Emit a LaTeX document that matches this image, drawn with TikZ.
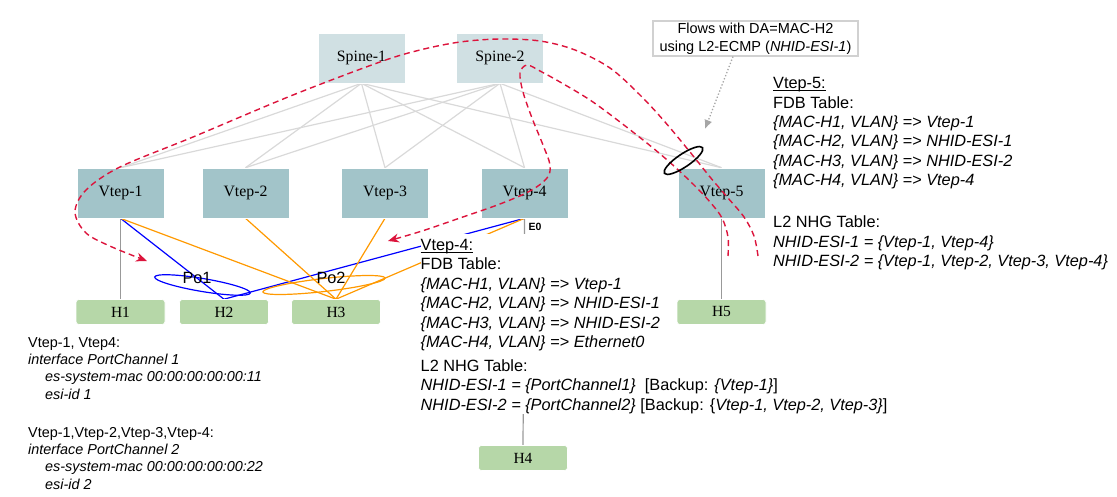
\documentclass[tikz,border=0pt]{standalone}
\usepackage{fontspec}
\setmainfont{Liberation Serif}
\newfontfamily\arial{Liberation Sans}
\usetikzlibrary{shapes.geometric,arrows.meta,backgrounds}
\definecolor{spinec}{HTML}{D0E0E3}
\definecolor{vtepc}{HTML}{A2C4C9}
\definecolor{hostc}{HTML}{B6D7A8}
\definecolor{linkc}{HTML}{D9D9D9}
\definecolor{hlinkc}{HTML}{999999}
\definecolor{orangec}{HTML}{FF9900}
\definecolor{bluec}{HTML}{0000FF}
\definecolor{flowc}{HTML}{DC143C}
\newcommand\myul[1]{\setbox0\hbox{#1}\rlap{\rule[-2.2pt]{\wd0}{0.9pt}}#1}
\begin{document}
\begin{tikzpicture}[x=1pt,y=-1pt,
  spinebox/.style={rectangle, fill=spinec, draw=white, line width=0.6pt, minimum width=87pt, minimum height=50pt, inner sep=0pt, font=\fontsize{15.8}{18}\selectfont},
  vtepbox/.style={spinebox, fill=vtepc},
  hostbox/.style={rectangle, rounded corners=3pt, fill=hostc, draw=white, line width=0.6pt, minimum width=89pt, minimum height=25pt, inner sep=0pt, font=\fontsize{15.5}{17}\selectfont},
  spinelink/.style={draw=linkc, line width=1.2pt},
  hostlink/.style={draw=hlinkc, line width=1.2pt},
  olink/.style={draw=orangec, line width=1.2pt},
  blink/.style={draw=bluec, line width=1.2pt},
  flow/.style={draw=flowc, line width=1.4pt, dash pattern=on 6pt off 4pt, -{Stealth[length=11pt,width=9pt]}},
  notetext/.style={font=\arial\fontsize{16.3}{19.3}\selectfont, align=left, inner sep=0pt, anchor=north west},
  pcring/.style={ellipse, draw, line width=1.2pt, inner sep=0pt, minimum height=13pt}
]
\useasboundingbox (0,0) rectangle (1117,497);

% links behind everything
% boxes
\node[spinebox] (s1) at (361.5,58) {Spine-1};
\node[spinebox] (s2) at (500,58) {Spine-2};
\node[vtepbox] (v1) at (120.5,193) {Vtep-1};
\node[vtepbox] (v2) at (245.5,193) {Vtep-2};
\node[vtepbox] (v3) at (385,193) {Vtep-3};
\node[vtepbox] (v4) at (524.5,193) {Vtep-4};
\node[vtepbox] (v5) at (721.5,193) {Vtep-5};
\node[hostbox] (h1) at (120.5,312) {H1};
\node[hostbox] (h2) at (224,312) {H2};
\node[hostbox] (h3) at (336,312) {H3};
\node[hostbox] (h4) at (523,458) {H4};
\node[hostbox] (h5) at (721.5,312) {H5};

\begin{scope}[on background layer]
  \foreach \s in {s1,s2}{
    \foreach \v in {v1,v2,v3,v4,v5}{
      \draw[spinelink] (\s.south) -- (\v.north);
    }
  }
  \draw[hostlink] (v1.south) -- (h1.north);
  \draw[hostlink] (v4.south) -- (h4.north);
  \draw[hostlink] (v5.south) -- (h5.north);
  \draw[blink] (v1.south) -- (h2.north);
  \draw[blink] (v4.south) -- (h2.north);
  \draw[olink] (v1.south) -- (h3.north);
  \draw[olink] (v2.south) -- (h3.north);
  \draw[olink] (v3.south) -- (h3.north);
  \draw[olink] (v4.south) -- (h3.north);
\end{scope}

% port-channel rings
\node[pcring, draw=bluec, minimum width=97pt, rotate=-9.5] (po1) at (202.5,285) {};
\node[pcring, draw=orangec, minimum width=123pt, rotate=6.5] (po2) at (324,285) {};
\node[font=\arial\fontsize{16.3}{19}\selectfont, inner sep=0pt] (po1l) at (197,278) {Po1};
\node[font=\arial\fontsize{16.3}{19}\selectfont, inner sep=0pt] (po2l) at (331,278) {Po2};

\node[font=\arial\bfseries\fontsize{10.5}{12}\selectfont, inner sep=0pt, anchor=west] (e0) at (528.5,227) {E0};

% Vtep-4 table (its white ground hides the links behind it)
\fill[white] (420.5,234) rectangle (600,414);
\node[notetext, font=\arial\fontsize{16.3}{19.4}\selectfont] (t4) at (420.5,239) {%
\myul{Vtep-4:}\\
FDB Table:\\
\textit{\{MAC-H1, VLAN\} => Vtep-1}\\
\textit{\{MAC-H2, VLAN\} => NHID-ESI-1}\\
\textit{\{MAC-H3, VLAN\} => NHID-ESI-2}\\
\textit{\{MAC-H4, VLAN\} => Ethernet0}\\[4.6pt]
L2 NHG Table:\\
\textit{NHID-ESI-1 = \{PortChannel1\}}\ \ [Backup: \textit{\{Vtep-1\}}]\\
\textit{NHID-ESI-2 = \{PortChannel2\}} [Backup: \{\textit{Vtep-1, Vtep-2, Vtep-3\}}]};

% Vtep-5 table
\node[notetext] (t5) at (773,77.5) {%
\myul{Vtep-5:}\\
FDB Table:\\
\textit{\{MAC-H1, VLAN\} => Vtep-1}\\
\textit{\{MAC-H2, VLAN\} => NHID-ESI-1}\\
\textit{\{MAC-H3, VLAN\} => NHID-ESI-2}\\
\textit{\{MAC-H4, VLAN\} => Vtep-4}\\[23pt]
L2 NHG Table:\\
\textit{NHID-ESI-1 = \{Vtep-1, Vtep-4\}}\\
\textit{NHID-ESI-2 = \{Vtep-1, Vtep-2, Vtep-3, Vtep-4\}}};

% config text
\node[notetext, font=\arial\fontsize{14.4}{17.3}\selectfont] (cfg) at (28,337) {%
Vtep-1, Vtep4:\\
\textit{interface PortChannel 1}\\
\hspace*{17pt}\textit{es-system-mac 00:00:00:00:00:11}\\
\hspace*{17pt}\textit{esi-id 1}\\[21pt]
Vtep-1,Vtep-2,Vtep-3,Vtep-4:\\
\textit{interface PortChannel 2}\\
\hspace*{17pt}\textit{es-system-mac 00:00:00:00:00:22}\\
\hspace*{17pt}\textit{esi-id 2}};

% callout
\node[draw=black!18, line width=1.2pt, minimum width=205pt, minimum height=35pt, inner sep=0pt, align=center, font=\arial\fontsize{14.5}{18}\selectfont] (callout) at (755.5,38.5) {Flows with DA=MAC-H2\\using L2-ECMP (\textit{NHID-ESI-1})};
\coordinate (ringtip) at (705,129);
\draw[draw=black!35, line width=1.3pt, dotted, -{Latex[length=9pt,width=8pt]}] ([xshift=-22.5pt]callout.south) -- (ringtip);

% flows
\coordinate (f1s) at (758,256);
\coordinate (f1e) at (147,261);
\draw[flow] plot[smooth, tension=0.55] coordinates {(f1s) (754,236) (744,217) (728,198) (710,177) (690,152) (665,122) (640,95) (610,68) (575,50) (540,41) (500,39) (460,42) (420,50) (380,62) (293,95) (193,137) (120,167) (86,190) (75,212) (86,233) (112,247) (f1e)};

\coordinate (f2s) at (728,256);
\coordinate (f2e) at (388,241);
\draw[flow] plot[smooth, tension=0.55] coordinates {(f2s) (728,237) (722,218) (710,202) (695,186) (675,167) (653,148) (620,122) (590,100) (560,82) (540,71) (527,65) (520,73) (523,92) (532,118) (543,145) (550,165) (547,178) (530,191) (500,204) (460,218) (422,231) (f2e)};

\node[pcring, draw=black, line width=1.6pt, minimum width=46pt, minimum height=13pt, rotate=34] (ecmp) at (683.5,160.5) {};
\end{tikzpicture}
\end{document}
